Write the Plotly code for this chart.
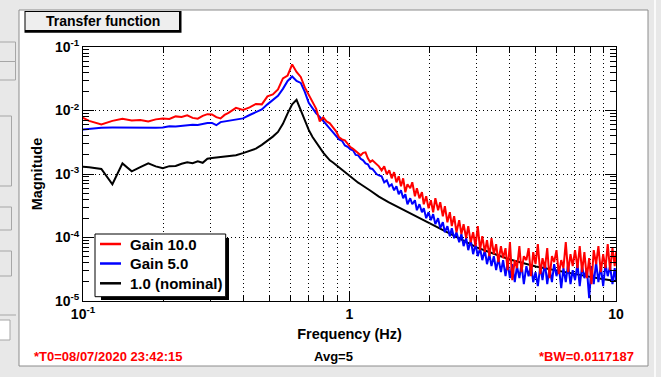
import plotly.graph_objects as go

# ---------------- data ----------------
# frequency bins of the low / resonance region (Hz)
freq_low = [0.09375, 0.10547, 0.11719, 0.12891, 0.14062, 0.15234, 0.16406, 0.17578, 0.1875, 0.19922,
            0.21094, 0.22266, 0.23437, 0.24609, 0.25781, 0.26953, 0.28125, 0.29297, 0.30469, 0.31641,
            0.32812, 0.33984, 0.35156,
            0.375, 0.39844, 0.42187, 0.44531, 0.46875, 0.49219, 0.51562, 0.53906, 0.5625, 0.58594,
            0.60937, 0.63281, 0.65625, 0.67969, 0.70312, 0.72656, 0.75, 0.77344, 0.79687, 0.82031,
            0.84375, 0.86719, 0.89062, 0.91406, 0.9375, 0.96094, 0.98437, 1.00781, 1.03125, 1.05469,
            1.07812, 1.10156, 1.125, 1.14844, 1.17187, 1.19531, 1.21875, 1.24219, 1.26562, 1.28906]

# frequencies of the noisy high-frequency region (Hz)
freq_high = [1.32, 1.35, 1.38, 1.41, 1.44, 1.47, 1.50, 1.53, 1.56, 1.59,
             1.62, 1.65, 1.69, 1.72, 1.76, 1.79, 1.83, 1.87, 1.90, 1.94,
             1.98, 2.02, 2.06, 2.10, 2.15, 2.19, 2.24, 2.28, 2.33, 2.38,
             2.42, 2.47, 2.52, 2.58, 2.63, 2.68, 2.74, 2.79, 2.85, 2.91,
             2.97, 3.03, 3.09, 3.15, 3.22, 3.28, 3.35, 3.41, 3.48, 3.55,
             3.62, 3.70, 3.77, 3.85, 3.92, 4.00, 4.08, 4.17, 4.25, 4.34,
             4.42, 4.51, 4.61, 4.70, 4.80, 4.89, 4.99, 5.09, 5.20, 5.30,
             5.41, 5.52, 5.63, 5.75, 5.86, 5.98, 6.10, 6.23, 6.35, 6.48,
             6.61, 6.75, 6.88, 7.02, 7.17, 7.31, 7.46, 7.61, 7.77, 7.93,
             8.09, 8.25, 8.42, 8.59, 8.77, 8.95, 9.13, 9.31, 9.50, 9.70,
             9.89, 10.0]

# Gain 10.0 (red)
gain10_low = [8.68e-3, 6.86e-3, 6.05e-3, 6.86e-3, 7.38e-3, 6.99e-3, 7.11e-3, 6.74e-3, 7.25e-3, 7.51e-3,
              7.38e-3, 8.08e-3, 7.93e-3, 8.38e-3, 7.65e-3, 7.43e-3, 8.22e-3, 8.75e-3, 8.68e-3, 7.85e-3,
              7.51e-3, 8.53e-3, 9.17e-3,
              1.10e-2, 1.02e-2, 1.12e-2, 1.27e-2, 1.25e-2, 1.67e-2, 1.79e-2, 2.15e-2, 3.20e-2, 3.56e-2,
              5.31e-2, 4.05e-2, 3.38e-2, 2.31e-2, 1.79e-2, 1.37e-2, 1.06e-2, 6.74e-3, 7.79e-3, 6.74e-3,
              6.27e-3, 5.42e-3, 4.69e-3, 3.77e-3, 3.51e-3, 3.39e-3, 2.99e-3, 2.65e-3, 2.49e-3, 2.32e-3,
              2.12e-3, 1.97e-3, 2.15e-3, 2.19e-3, 1.77e-3, 1.54e-3, 1.64e-3, 1.53e-3, 1.42e-3, 1.32e-3]
gain10_high = [1.14e-3, 1.32e-3, 9.9e-4, 1.14e-3, 8.56e-4, 1.07e-3, 7.4e-4, 9.2e-4, 6.41e-4, 8.56e-4,
               5.16e-4, 6.89e-4, 5.96e-4, 7.4e-4, 4.46e-4, 5.96e-4, 4.15e-4, 5.16e-4, 3.34e-4, 4.46e-4,
               2.89e-4, 3.86e-4, 2.50e-4, 4.15e-4, 2.69e-4, 3.59e-4, 2.16e-4, 3.11e-4, 1.74e-4, 2.50e-4,
               1.51e-4, 2.16e-4, 1.21e-4, 1.87e-4, 1.13e-4, 1.62e-4, 9.75e-5, 1.51e-4, 8.44e-5, 1.21e-4,
               7.30e-5, 1.51e-4, 6.32e-5, 1.05e-4, 5.87e-5, 9.07e-5, 5.08e-5, 9.75e-5, 5.46e-5, 7.85e-5,
               4.09e-5, 7.30e-5, 4.73e-5, 6.79e-5, 3.06e-5, 8.44e-5, 2.13e-5, 4.40e-5, 3.29e-5, 7.30e-5,
               2.85e-5, 5.08e-5, 4.40e-5, 6.79e-5, 2.46e-5, 5.87e-5, 3.80e-5, 7.85e-5, 2.65e-5, 4.73e-5,
               3.29e-5, 6.79e-5, 2.29e-5, 5.08e-5, 4.09e-5, 6.32e-5, 2.65e-5, 4.40e-5, 3.29e-5, 8.44e-5,
               2.85e-5, 5.46e-5, 3.54e-5, 6.32e-5, 3.29e-5, 7.30e-5, 2.85e-5, 5.87e-5, 2.29e-5, 4.73e-5,
               1.84e-5, 6.32e-5, 3.80e-5, 7.30e-5, 2.85e-5, 5.46e-5, 3.29e-5, 7.85e-5, 3.06e-5, 6.79e-5,
               3.54e-5, 5.87e-5]

# Gain 5.0 (blue)
gain5_low = [4.87e-3, 5.14e-3, 5.35e-3, 5.38e-3, 5.36e-3, 5.30e-3, 5.38e-3, 5.32e-3, 5.36e-3, 5.42e-3,
             5.64e-3, 5.60e-3, 5.73e-3, 5.83e-3, 5.96e-3, 5.90e-3, 6.13e-3, 6.34e-3, 6.38e-3, 5.87e-3,
             6.57e-3, 6.74e-3, 6.94e-3,
             7.11e-3, 7.51e-3, 8.49e-3, 9.34e-3, 1.04e-2, 1.25e-2, 1.44e-2, 1.70e-2, 2.19e-2, 2.92e-2,
             3.44e-2, 2.92e-2, 2.72e-2, 1.96e-2, 1.32e-2, 1.06e-2, 9.0e-3, 7.93e-3, 6.86e-3, 5.83e-3,
             5.14e-3, 4.53e-3, 3.95e-3, 3.51e-3, 3.33e-3, 2.82e-3, 2.68e-3, 2.45e-3, 2.36e-3, 2.0e-3,
             1.97e-3, 1.74e-3, 1.64e-3, 1.47e-3, 1.42e-3, 1.23e-3, 1.2e-3, 1.07e-3, 9.9e-4, 9.5e-4]
gain5_high = [9.2e-4, 7.4e-4, 7.96e-4, 6.41e-4, 6.89e-4, 5.54e-4, 6.41e-4, 4.80e-4, 5.54e-4, 4.15e-4,
              4.80e-4, 3.34e-4, 4.15e-4, 3.34e-4, 3.86e-4, 2.69e-4, 3.34e-4, 2.50e-4, 2.89e-4, 2.01e-4,
              2.50e-4, 1.87e-4, 2.33e-4, 1.62e-4, 2.01e-4, 1.40e-4, 1.74e-4, 1.21e-4, 1.51e-4, 1.05e-4,
              1.40e-4, 9.75e-5, 1.21e-4, 8.44e-5, 1.13e-4, 7.30e-5, 9.75e-5, 6.32e-5, 9.07e-5, 5.46e-5,
              7.85e-5, 5.08e-5, 6.79e-5, 4.40e-5, 6.32e-5, 3.80e-5, 5.46e-5, 3.54e-5, 5.08e-5, 3.06e-5,
              4.73e-5, 2.85e-5, 4.40e-5, 2.46e-5, 4.09e-5, 2.29e-5, 3.80e-5, 1.98e-5, 3.54e-5, 2.29e-5,
              3.80e-5, 1.84e-5, 3.54e-5, 2.46e-5, 3.80e-5, 1.98e-5, 2.85e-5, 1.71e-5, 3.54e-5, 2.13e-5,
              4.09e-5, 1.84e-5, 3.29e-5, 1.98e-5, 3.80e-5, 2.46e-5, 3.54e-5, 1.60e-5, 3.29e-5, 1.98e-5,
              3.80e-5, 1.84e-5, 3.06e-5, 2.13e-5, 3.80e-5, 1.71e-5, 3.54e-5, 2.29e-5, 3.29e-5, 1.11e-5,
              3.54e-5, 1.84e-5, 4.09e-5, 1.98e-5, 3.54e-5, 1.71e-5, 3.80e-5, 2.46e-5, 3.54e-5, 1.84e-5,
              3.29e-5, 2.13e-5]

# 1.0 (nominal) (black)
nominal_low = [1.32e-3, 1.28e-3, 1.20e-3, 6.9e-4, 1.47e-3, 1.10e-3, 1.28e-3, 1.47e-3, 1.32e-3, 1.23e-3,
               1.33e-3, 1.34e-3, 1.45e-3, 1.53e-3, 1.48e-3, 1.58e-3, 1.50e-3, 1.74e-3, 1.78e-3, 1.81e-3,
               1.83e-3, 1.84e-3, 1.89e-3,
               1.97e-3, 2.13e-3, 2.29e-3, 2.51e-3, 2.88e-3, 3.34e-3, 3.88e-3, 4.59e-3, 6.16e-3, 9.0e-3,
               1.25e-2, 1.47e-2, 1.02e-2, 7.35e-3, 4.95e-3, 3.83e-3, 3.12e-3, 2.56e-3, 2.17e-3, 1.88e-3,
               1.64e-3, 1.52e-3, 1.39e-3, 1.26e-3, 1.15e-3, 1.06e-3, 9.7e-4, 8.9e-4, 8.35e-4, 7.8e-4,
               7.3e-4, 6.9e-4, 6.45e-4, 6.1e-4, 5.8e-4, 5.5e-4, 5.2e-4, 4.9e-4, 4.65e-4, 4.4e-4]
nominal_freq_high = [1.4, 1.5, 1.75, 2.0, 2.25, 2.5, 2.75, 3.0, 3.5, 4.0, 5.0, 6.0, 7.0, 8.0, 9.0, 10.0]
nominal_high = [3.6e-4, 3.1e-4, 2.25e-4, 1.7e-4, 1.32e-4, 1.03e-4, 8.4e-5, 7.0e-5, 5.5e-5, 4.5e-5,
                3.5e-5, 3.0e-5, 2.65e-5, 2.4e-5, 2.2e-5, 2.06e-5]

series_names = ["Gain 10.0", "Gain 5.0", "1.0 (nominal)"]
series_colors = ["#ff0000", "#0000ff", "#000000"]

x_ticks = [0.1, 1, 10]
x_ticktext = ["10<sup>-1</sup>", "1", "10"]
y_ticks = [1e-5, 1e-4, 1e-3, 1e-2, 1e-1]
y_ticktext = ["10<sup>-5</sup>", "10<sup>-4</sup>", "10<sup>-3</sup>", "10<sup>-2</sup>", "10<sup>-1</sup>"]

assert len(freq_low) == len(gain10_low) == len(gain5_low) == len(nominal_low)
assert len(freq_high) == len(gain10_high) == len(gain5_high)
assert len(nominal_freq_high) == len(nominal_high)

freq_gain = freq_low + freq_high
gain10 = gain10_low + gain10_high
gain5 = gain5_low + gain5_high
freq_nominal = freq_low + nominal_freq_high
nominal = nominal_low + nominal_high

# ---------------- figure ----------------
W, H = 661, 377
PL, PR, PT, PB = 83, 616, 47, 301
FONT = "Liberation Sans, Arial, Helvetica, sans-serif"


def fx(x):
    return (x - PL) / (PR - PL)


def fy(y):
    return (PB - y) / (PB - PT)


def rect(x0, y0, x1, y1, fill="rgba(0,0,0,0)", line=None, lw=1, layer="above"):
    return dict(type="rect", xref="paper", yref="paper",
                x0=fx(x0), x1=fx(x1), y0=fy(y1), y1=fy(y0),
                fillcolor=fill,
                line=dict(color=line if line else "rgba(0,0,0,0)", width=lw if line else 0),
                layer=layer)


def hline(x0, x1, y, color, width, layer="above"):
    return dict(type="line", xref="paper", yref="paper", x0=fx(x0), x1=fx(x1),
                y0=fy(y), y1=fy(y), line=dict(color=color, width=width), layer=layer)


fig = go.Figure()
fig.add_trace(go.Scatter(x=freq_nominal, y=nominal, mode="lines", name=series_names[2],
                         line=dict(color=series_colors[2], width=2)))
fig.add_trace(go.Scatter(x=freq_gain, y=gain5, mode="lines", name=series_names[1],
                         line=dict(color=series_colors[1], width=2)))
fig.add_trace(go.Scatter(x=freq_gain, y=gain10, mode="lines", name=series_names[0],
                         line=dict(color=series_colors[0], width=2)))

shapes = []
# pad frame and surrounding GUI
shapes.append(rect(19, 10, 648, 366, fill="#ffffff", line="#8c8c8c", lw=1, layer="below"))
shapes.append(dict(type="line", xref="paper", yref="paper", x0=fx(655), x1=fx(655), y0=fy(0), y1=fy(377),
                   line=dict(color="#fafafa", width=2), layer="below"))
for (a, b, c, d, f) in [(-2, 42, 15.5, 61.5, "rgba(0,0,0,0)"), (-2, 61.5, 15.5, 80, "rgba(0,0,0,0)"),
                        (-2, 116, 11.5, 186, "rgba(0,0,0,0)"), (-2, 207, 11.5, 230, "rgba(0,0,0,0)"),
                        (-2, 251, 11.5, 276, "rgba(0,0,0,0)"), (-2, 320, 10, 340, "#ffffff")]:
    shapes.append(rect(a, b, c, d, fill=f, line="#a6a6a6", lw=1, layer="below"))
shapes.append(hline(0, 16, 315, "#a6a6a6", 1, layer="below"))

# title box with shadow
shapes.append(rect(24.5, 11, 181.5, 32.7, fill="#000000"))
shapes.append(rect(25.5, 12, 179, 30, fill="#eeeeee"))

# legend box with shadow
shapes.append(rect(101, 238, 229, 300, fill="#000000"))
shapes.append(rect(95, 234, 225.7, 296.7, fill="#ffffff", line="#000000", lw=1))
legend_y = [244, 263.5, 283.3]
for name, col, yy in zip(series_names, series_colors, legend_y):
    shapes.append(hline(100, 121, yy, col, 2.5))

annotations = []
for name, yy in zip(series_names, legend_y):
    annotations.append(dict(text=name, xref="paper", yref="paper", x=fx(127.5), y=fy(yy),
                            xanchor="left", yanchor="middle", showarrow=False,
                            font=dict(family=FONT, size=15, color="#000000", weight="bold")))

annotations.append(dict(text="Transfer function", xref="paper", yref="paper", x=fx(102.5), y=fy(21.5),
                        xanchor="center", yanchor="middle", showarrow=False,
                        font=dict(family=FONT, size=14, color="#000000", weight="bold")))
annotations.append(dict(text="*T0=08/07/2020 23:42:15", xref="paper", yref="paper", x=fx(32), y=fy(356),
                        xanchor="left", yanchor="middle", showarrow=False,
                        font=dict(family=FONT, size=13, color="#ff0000", weight="bold")))
annotations.append(dict(text="Avg=5", xref="paper", yref="paper", x=fx(333), y=fy(356),
                        xanchor="center", yanchor="middle", showarrow=False,
                        font=dict(family=FONT, size=13, color="#000000", weight="bold")))
annotations.append(dict(text="*BW=0.0117187", xref="paper", yref="paper", x=fx(636), y=fy(356),
                        xanchor="right", yanchor="middle", showarrow=False,
                        font=dict(family=FONT, size=13, color="#ff0000", weight="bold")))

tickfont = dict(family=FONT, size=14, color="#000000", weight="bold")
titlefont = dict(family=FONT, size=14.5, color="#000000", weight="bold")

fig.update_layout(
    width=W, height=H,
    margin=dict(l=PL, r=W - PR, t=PT, b=H - PB, pad=0),
    paper_bgcolor="#e8e8e8",
    plot_bgcolor="#ffffff",
    showlegend=False,
    shapes=shapes,
    annotations=annotations,
    xaxis=dict(
        type="log", range=[-1, 1], autorange=False,
        showline=True, linecolor="#000000", linewidth=1, mirror="ticks",
        ticks="inside", ticklen=10, tickwidth=1, tickcolor="#000000",
        tickvals=x_ticks, ticktext=x_ticktext, tickfont=tickfont,
        showgrid=True, gridcolor="#000000", gridwidth=1, griddash="1px,3px",
        minor=dict(dtick="D1", ticks="inside", ticklen=6, tickwidth=1, tickcolor="#000000",
                   showgrid=True, gridcolor="#000000", gridwidth=1, griddash="1px,3px"),
        zeroline=False,
        title=dict(text="Frequency (Hz)", font=titlefont, standoff=8),
    ),
    yaxis=dict(
        type="log", range=[-5, -1], autorange=False,
        showline=True, linecolor="#000000", linewidth=1, mirror="ticks",
        ticks="inside", ticklen=11, tickwidth=1, tickcolor="#000000",
        tickvals=y_ticks, ticktext=y_ticktext, tickfont=tickfont,
        showgrid=True, gridcolor="#000000", gridwidth=1, griddash="1px,3px",
        minor=dict(dtick="D1", ticks="inside", ticklen=6, tickwidth=1, tickcolor="#000000",
                   showgrid=False),
        zeroline=False,
        title=dict(text="Magnitude", font=titlefont, standoff=8),
    ),
)

fig.write_html(
    "out.html",
    config={"displayModeBar": False},
    post_script="document.body.style.margin='0';document.body.style.padding='0';"
                "document.body.style.overflow='hidden';",
)
